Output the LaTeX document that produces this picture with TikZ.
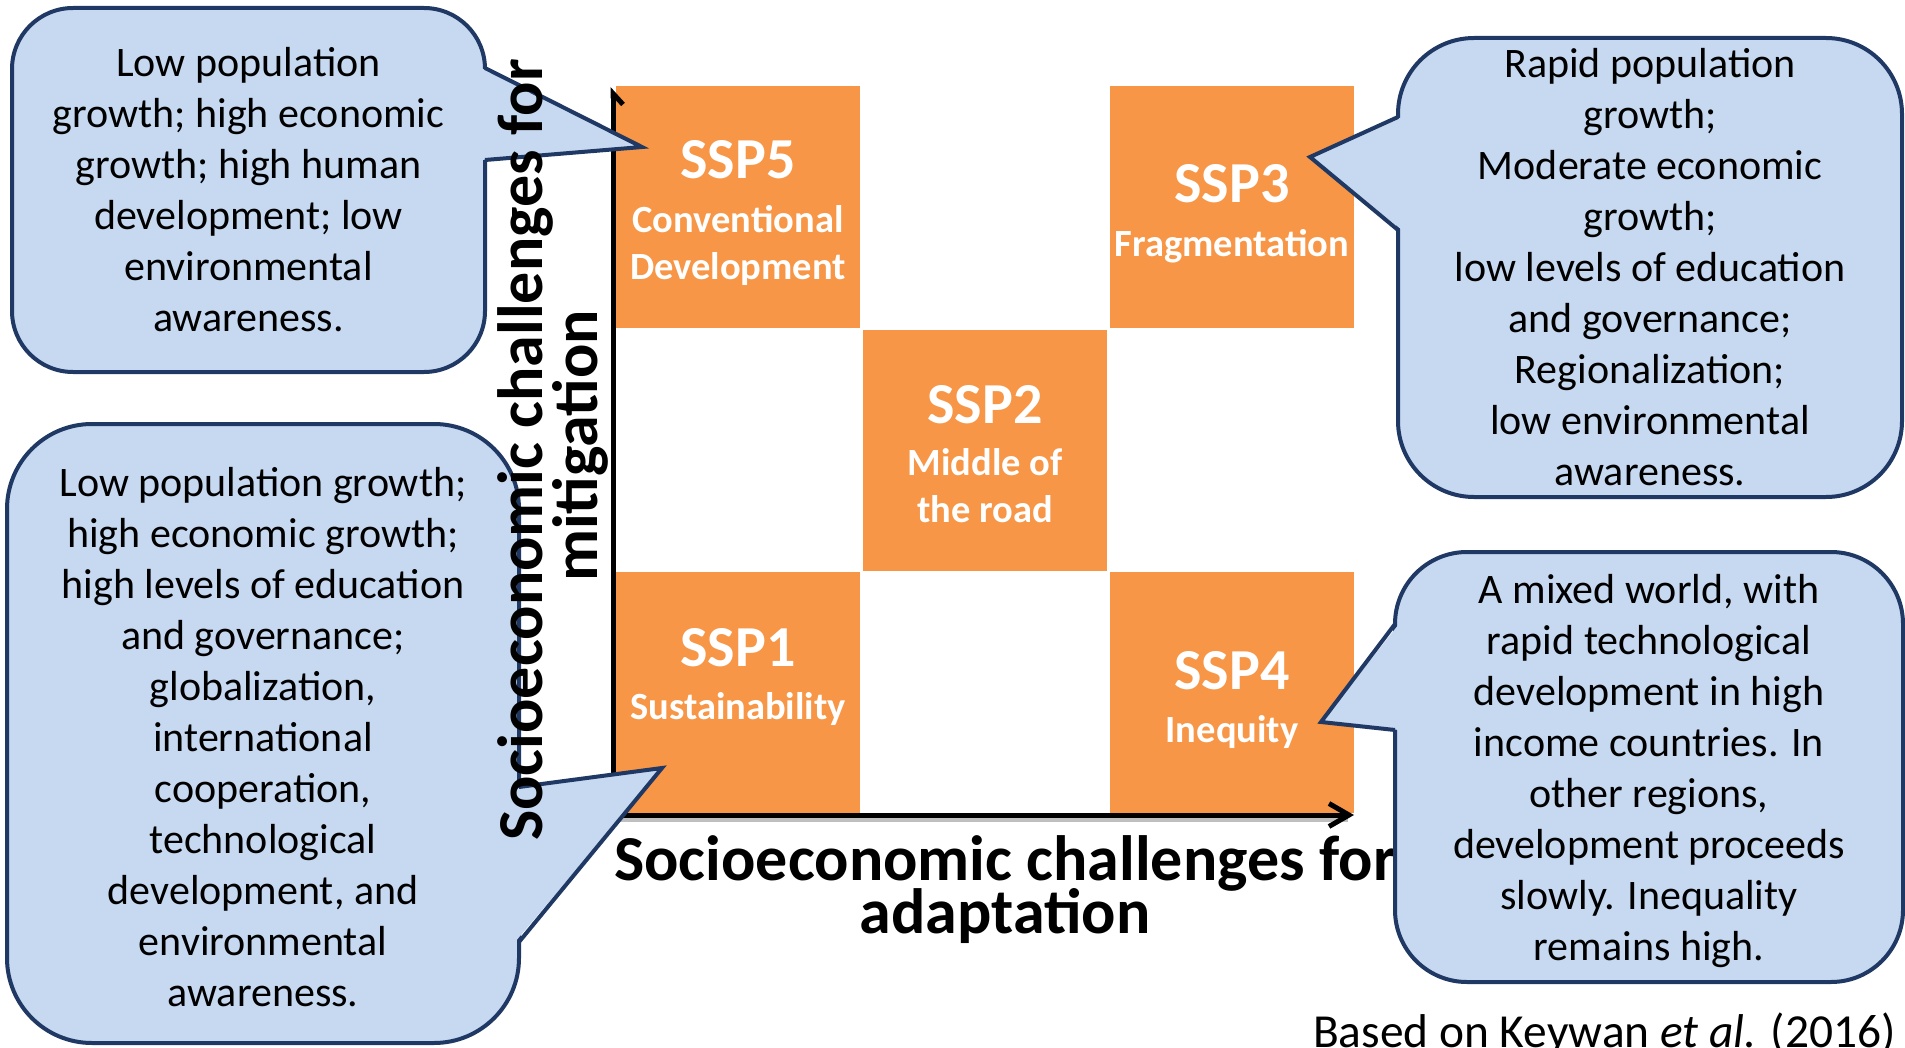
\documentclass[tikz,border=0pt]{standalone}
\usepackage{fontspec}
\setmainfont{Carlito}
\usetikzlibrary{arrows.meta,calc}

\definecolor{sspfill}{RGB}{247,150,70}
\definecolor{bubblefill}{RGB}{198,217,241}
\definecolor{bubbleline}{RGB}{31,56,100}

\tikzset{
  cell/.style={fill=sspfill,minimum width=122pt,minimum height=120.5pt,inner sep=0pt},
  ssptitle/.style={text=white,font=\bfseries\fontsize{29}{35}\selectfont,anchor=base,inner sep=0pt},
  sspsub/.style={text=white,font=\bfseries\fontsize{19.25}{23.25}\selectfont,align=center,anchor=base,inner sep=0pt},
  bubble/.style={draw=bubbleline,fill=bubblefill,line width=2pt,inner sep=0pt,outer sep=0pt},
  tailfill/.style={fill=bubblefill},
  tailline/.style={draw=bubbleline,line width=2pt,line join=miter},
  bubbletext/.style={font=\fontsize{21}{25.5}\selectfont,align=center,anchor=base,inner sep=0pt},
  axis/.style={line width=2.5pt},
  axislabel/.style={font=\bfseries\fontsize{32}{38}\selectfont,anchor=base,inner sep=0pt},
}

\begin{document}
\begin{tikzpicture}[x=0.5pt,y=-0.5pt]
\useasboundingbox (0,0) rectangle (1905,1048);

% the five scenarios (multi-line texts sit on their last baseline)
\node[cell] (ssp5) at (738,207) {};
\node[cell] (ssp3) at (1232,207) {};
\node[cell] (ssp2) at (985,450) {};
\node[cell] (ssp1) at (738,692) {};
\node[cell] (ssp4) at (1232,692) {};

\node[ssptitle] (ssp5-title) at ($(ssp5)+(0,-28)$) {SSP5};
\node[sspsub] (ssp5-sub) at ($(ssp5)+(0,72)$) {Conventional\\Development};
\node[ssptitle] (ssp3-title) at ($(ssp3)+(0,-4)$) {SSP3};
\node[sspsub] (ssp3-sub) at ($(ssp3)+(0,49.5)$) {Fragmentation};
\node[ssptitle] (ssp2-title) at ($(ssp2)+(0,-27)$) {SSP2};
\node[sspsub] (ssp2-sub) at ($(ssp2)+(0,72)$) {Middle of\\the road};
\node[ssptitle] (ssp1-title) at ($(ssp1)+(0,-26)$) {SSP1};
\node[sspsub] (ssp1-sub) at ($(ssp1)+(0,27)$) {Sustainability};
\node[ssptitle] (ssp4-title) at ($(ssp4)+(0,-3)$) {SSP4};
\node[sspsub] (ssp4-sub) at ($(ssp4)+(0,50)$) {Inequity};

% axes
\coordinate (origin) at (613,815);
\coordinate (xend) at (1354,815);
\coordinate (yend) at (613,87);
\draw[axis,black!25] ($(origin)+(2,4)$) -- ($(xend)+(-6,4)$);
\draw[axis,{Straight Barb[harpoon,swap,length=5.5pt,width=10pt]}-{Straight Barb[length=10pt,width=11.5pt]}]
  (yend) -- (origin) -- (xend);

\node[axislabel] (xlab1) at (1005,880) {Socioeconomic challenges for};
\node[axislabel] (xlab2) at (1005,933) {adaptation};

% callouts
\node[bubble,rounded corners=30.5pt,minimum width=236.5pt,minimum height=182pt] (tl) at (248.5,190) {};
\coordinate (tl-tip) at (642,147);
\fill[tailfill] ($(tl.north east)+(-4,60)$) -- (tl-tip) -- ($(tl.north east)+(-4,152)$) -- cycle;
\draw[tailline] ($(tl.north east)+(0,60)$) -- (tl-tip) -- ($(tl.north east)+(0,152)$);
\node[bubbletext] (tl-text) at (248.5,331.7)
  {Low population\\growth; high economic\\growth; high human\\development; low\\environmental\\awareness.};

\node[bubble,rounded corners=42.5pt,minimum width=256pt,minimum height=309.5pt] (ll) at (263,733.5) {};
\coordinate (ll-tip) at (662,768);
\fill[tailfill] ($(ll.north east)+(-4,363)$) -- (ll-tip) -- ($(ll.north east)+(-4,518)$) -- cycle;
\draw[tailline] ($(ll.north east)+(0,363)$) -- (ll-tip) -- ($(ll.north east)+(0,518)$);
\node[bubbletext] (ll-text) at (263,1006.7)
  {Low population growth;\\high economic growth;\\high levels of education\\and governance;\\globalization,\\international\\cooperation,\\technological\\development, and\\environmental\\awareness.};

\node[bubble,rounded corners=38pt,minimum width=252pt,minimum height=229.5pt] (tr) at (1650,267.5) {};
\coordinate (tr-tip) at (1310,157);
\fill[tailfill] ($(tr.north west)+(4,79)$) -- (tr-tip) -- ($(tr.north west)+(4,192)$) -- cycle;
\draw[tailline] ($(tr.north west)+(0,79)$) -- (tr-tip) -- ($(tr.north west)+(0,192)$);
\node[bubbletext] (tr-text) at (1650,485)
  {Rapid population\\growth;\\Moderate economic\\growth;\\low levels of education\\and governance;\\Regionalization;\\low environmental\\awareness.};

\node[bubble,rounded corners=36pt,minimum width=254pt,minimum height=215pt] (br) at (1649,767) {};
\coordinate (br-tip) at (1321,722);
\fill[tailfill] ($(br.north west)+(4,72)$) -- (br-tip) -- ($(br.north west)+(4,178)$) -- cycle;
\draw[tailline] ($(br.north west)+(0,72)$) -- (br-tip) -- ($(br.north west)+(0,178)$);
\node[bubbletext] (br-text) at (1649,960)
  {A mixed world, with\\rapid technological\\development in high\\income countries. In\\other regions,\\development proceeds\\slowly. Inequality\\remains high.};

% vertical axis title sits over the left callouts
\node[axislabel,rotate=90] (ylab1) at (542,450) {Socioeconomic challenges for};
\node[axislabel,rotate=90] (ylab2) at (597,446) {mitigation};

\node[font=\fontsize{23.7}{28}\selectfont,anchor=base east,inner sep=0pt] (source) at (1896,1047)
  {Based on Keywan \textit{et al.} (2016)};
\end{tikzpicture}
\end{document}
